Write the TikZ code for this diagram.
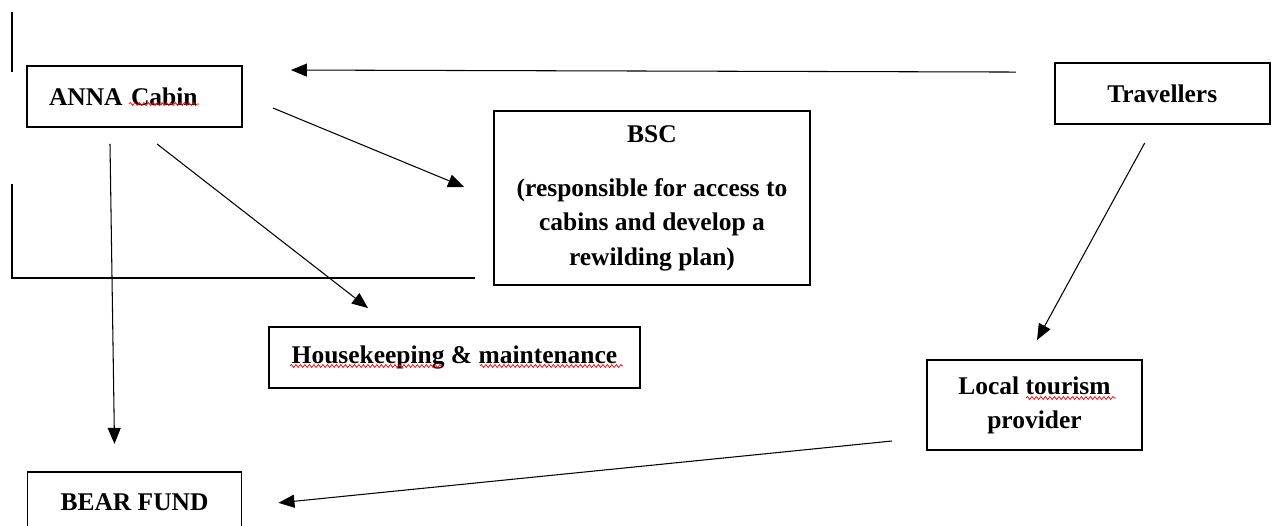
\documentclass[tikz,border=0pt]{standalone}
\usepackage{fontspec}
\setmainfont{Liberation Serif}
\usetikzlibrary{positioning,calc,arrows.meta,decorations.pathmorphing}

\tikzset{
  box/.style={draw, line width=1.1pt, font=\bfseries\fontsize{14.5}{19.5}\selectfont, align=center, inner sep=0pt},
  link/.style={line width=0.6pt, -{Triangle[length=0.32cm, width=0.26cm]}},
  squiggle/.style={red, line width=0.4pt, decorate, decoration={snake, amplitude=0.03cm, segment length=0.09cm}},
  stray/.style={line width=0.6pt}
}

\begin{document}
\begin{tikzpicture}[x=0.02cm, y=-0.02cm]
    \clip (0,0) rectangle (1279,525);

    \node[box, minimum width=4.3cm, minimum height=1.22cm, text width=3.42cm, align=left] (anna) at (134.5,96.5) {ANNA Cabin};
    \node[box, minimum width=4.3cm, minimum height=1.22cm, right=16.22cm of anna, yshift=0.06cm] (trav) {Travellers};
    \node[box, minimum width=6.32cm, minimum height=3.48cm] (bsc) at (652,198) {BSC\\[0.4cm](responsible for access to\\cabins and develop a\\rewilding plan)};
    \node[box, minimum width=7.42cm, minimum height=1.22cm] (house) at (454.5,357.5) {Housekeeping \& maintenance};
    \node[box, minimum width=4.3cm, minimum height=1.8cm] (local) at (1034.5,405) {Local tourism\\provider};
    \node[box, minimum width=4.28cm, minimum height=1.22cm, below=6.86cm of anna] (bear) {BEAR FUND};

    % arrows
    \draw[link] ($(trav.north west)+(-38,10)$) -- ($(anna.north east)+(48,5)$);
    \draw[link] ($(anna.east)+(30,11.5)$) -- ($(bsc.west)+(-29,-11)$);
    \draw[link] ($(anna.south)+(22.5,16)$) -- ($(house.north)+(-86.5,-18)$);
    \draw[link] ($(anna.south)+(-24.5,16)$) -- ($(bear.north)+(-20,-27)$);
    \draw[link] ($(trav.south)+(-17.5,18)$) -- ($(local.north)+(2.5,-19)$);
    \draw[link] ($(local.west)+(-34,36)$) -- ($(bear.east)+(36,0.5)$);

    % loose lines
    \draw[stray] (12,12) -- (12,72);
    \draw[stray] (12,184) -- (12,278) -- (475,278);

    % spell check marks
    \draw[squiggle] (129,104) -- (199,104);
    \draw[squiggle] (290,366) -- (443,366);
    \draw[squiggle] (480,366) -- (623,366);
    \draw[squiggle] (1026,398) -- (1116,398);
\end{tikzpicture}
\end{document}
